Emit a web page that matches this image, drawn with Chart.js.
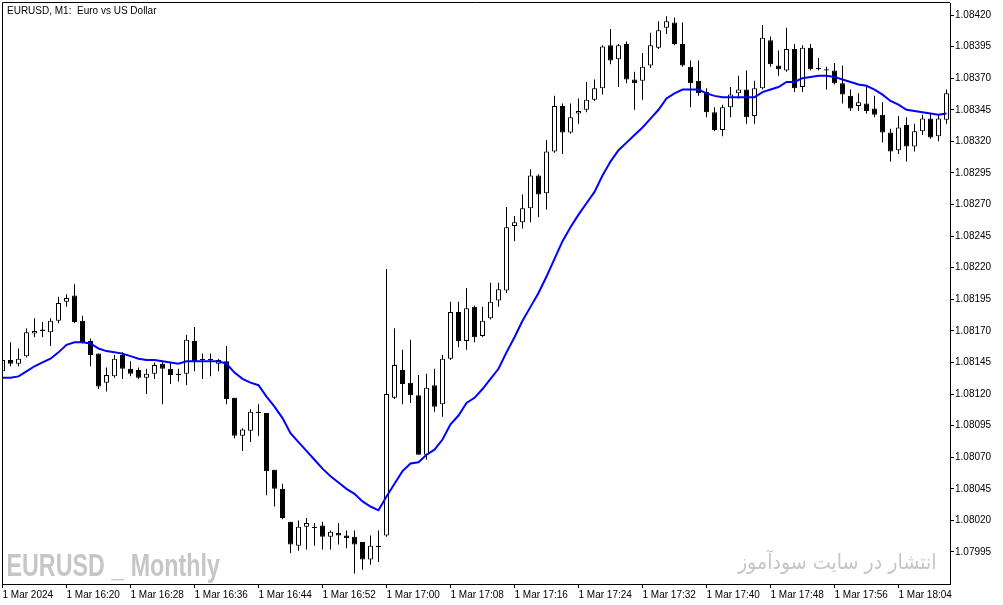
<!DOCTYPE html>
<html>
<head>
<meta charset="utf-8">
<title>EURUSD, M1</title>
<script src="https://cdn.jsdelivr.net/npm/chart.js@4.4.1/dist/chart.umd.min.js"></script>
<style>
  html, body { margin: 0; padding: 0; background: #fff; }
  canvas { display: block; }
</style>
</head>
<body>
<canvas id="chart" width="1003" height="605"></canvas>
<script>
// M1 candles, 1 Mar 2024 16:12 .. 18:10 (one entry per minute)
const openPrices = [
	1.08138, 1.08147, 1.08144, 1.08150, 1.08168, 1.08170, 1.08169, 1.08178, 1.08193, 1.08198,
	1.08178, 1.08162, 1.08152, 1.08129, 1.08134, 1.08151, 1.08140, 1.08139, 1.08133, 1.08136,
	1.08144, 1.08140, 1.08136, 1.08136, 1.08162, 1.08148, 1.08148, 1.08144, 1.08146, 1.08117,
	1.08087, 1.08091, 1.08106, 1.08105, 1.08060, 1.08045, 1.08019, 1.08000, 1.08015, 1.08015,
	1.08016, 1.08007, 1.08010, 1.08008, 1.08007, 1.08003, 1.07989, 1.08000, 1.08008, 1.08117,
	1.08139, 1.08129, 1.08119, 1.08072, 1.08127, 1.08112, 1.08148, 1.08185, 1.08162, 1.08189,
	1.08166, 1.08180, 1.08194, 1.08202, 1.08253, 1.08256, 1.08267, 1.08293, 1.08279, 1.08312,
	1.08348, 1.08327, 1.08342, 1.08345, 1.08353, 1.08362, 1.08396, 1.08385, 1.08397, 1.08369,
	1.08368, 1.08380, 1.08394, 1.08410, 1.08414, 1.08397, 1.08379, 1.08368, 1.08359, 1.08343,
	1.08329, 1.08347, 1.08358, 1.08361, 1.08340, 1.08362, 1.08400, 1.08380, 1.08376, 1.08393,
	1.08363, 1.08394, 1.08378, 1.08377, 1.08376, 1.08366, 1.08356, 1.08348, 1.08350, 1.08346,
	1.08341, 1.08327, 1.08313, 1.08333, 1.08316, 1.08328, 1.08338, 1.08324, 1.08337
];

const highPrices = [
	1.08149, 1.08161, 1.08156, 1.08172, 1.08180, 1.08177, 1.08180, 1.08197, 1.08199, 1.08207,
	1.08182, 1.08164, 1.08152, 1.08141, 1.08151, 1.08153, 1.08146, 1.08141, 1.08140, 1.08145,
	1.08146, 1.08145, 1.08140, 1.08167, 1.08173, 1.08152, 1.08152, 1.08148, 1.08158, 1.08117,
	1.08093, 1.08108, 1.08112, 1.08105, 1.08060, 1.08049, 1.08019, 1.08020, 1.08022, 1.08018,
	1.08019, 1.08012, 1.08018, 1.08012, 1.08012, 1.08003, 1.08008, 1.08012, 1.08219, 1.08172,
	1.08155, 1.08163, 1.08135, 1.08136, 1.08140, 1.08151, 1.08193, 1.08193, 1.08204, 1.08190,
	1.08189, 1.08208, 1.08208, 1.08268, 1.08261, 1.08278, 1.08298, 1.08294, 1.08321, 1.08356,
	1.08350, 1.08350, 1.08354, 1.08367, 1.08369, 1.08396, 1.08409, 1.08397, 1.08399, 1.08375,
	1.08390, 1.08406, 1.08415, 1.08419, 1.08418, 1.08414, 1.08384, 1.08384, 1.08362, 1.08347,
	1.08349, 1.08363, 1.08372, 1.08376, 1.08368, 1.08412, 1.08403, 1.08392, 1.08410, 1.08397,
	1.08396, 1.08397, 1.08386, 1.08379, 1.08382, 1.08380, 1.08361, 1.08358, 1.08363, 1.08356,
	1.08351, 1.08330, 1.08340, 1.08339, 1.08334, 1.08341, 1.08342, 1.08341, 1.08361
];

const lowPrices = [
	1.08137, 1.08142, 1.08142, 1.08149, 1.08165, 1.08165, 1.08158, 1.08176, 1.08189, 1.08176,
	1.08160, 1.08142, 1.08124, 1.08122, 1.08133, 1.08132, 1.08134, 1.08132, 1.08120, 1.08132,
	1.08112, 1.08128, 1.08130, 1.08127, 1.08138, 1.08132, 1.08134, 1.08138, 1.08112, 1.08085,
	1.08075, 1.08082, 1.08087, 1.08040, 1.08031, 1.08021, 1.07994, 1.07996, 1.07997, 1.08000,
	1.07997, 1.07997, 1.08001, 1.07998, 1.07978, 1.07981, 1.07985, 1.07987, 1.08007, 1.08116,
	1.08112, 1.08113, 1.08072, 1.08068, 1.08106, 1.08102, 1.08147, 1.08157, 1.08155, 1.08161,
	1.08165, 1.08179, 1.08189, 1.08200, 1.08241, 1.08251, 1.08256, 1.08260, 1.08266, 1.08311,
	1.08310, 1.08326, 1.08334, 1.08343, 1.08352, 1.08357, 1.08381, 1.08363, 1.08366, 1.08345,
	1.08353, 1.08378, 1.08393, 1.08405, 1.08396, 1.08379, 1.08347, 1.08356, 1.08339, 1.08328,
	1.08324, 1.08339, 1.08354, 1.08334, 1.08334, 1.08361, 1.08379, 1.08372, 1.08375, 1.08359,
	1.08359, 1.08376, 1.08376, 1.08361, 1.08365, 1.08350, 1.08344, 1.08344, 1.08342, 1.08339,
	1.08319, 1.08304, 1.08310, 1.08304, 1.08312, 1.08325, 1.08322, 1.08320, 1.08334
];

const closePrices = [
	1.08147, 1.08144, 1.08148, 1.08169, 1.08170, 1.08171, 1.08178, 1.08192, 1.08196, 1.08177,
	1.08161, 1.08151, 1.08126, 1.08135, 1.08148, 1.08140, 1.08136, 1.08133, 1.08136, 1.08143,
	1.08140, 1.08135, 1.08135, 1.08163, 1.08146, 1.08147, 1.08147, 1.08147, 1.08116, 1.08087,
	1.08092, 1.08106, 1.08105, 1.08059, 1.08045, 1.08022, 1.08001, 1.08015, 1.08018, 1.08014,
	1.08007, 1.08011, 1.08008, 1.08006, 1.08001, 1.07989, 1.08000, 1.07999, 1.08120, 1.08143,
	1.08128, 1.08119, 1.08072, 1.08125, 1.08110, 1.08148, 1.08185, 1.08162, 1.08188, 1.08165,
	1.08178, 1.08193, 1.08203, 1.08252, 1.08256, 1.08267, 1.08293, 1.08278, 1.08312, 1.08348,
	1.08327, 1.08339, 1.08344, 1.08353, 1.08362, 1.08395, 1.08384, 1.08396, 1.08369, 1.08366,
	1.08379, 1.08396, 1.08408, 1.08415, 1.08397, 1.08380, 1.08366, 1.08358, 1.08343, 1.08329,
	1.08347, 1.08357, 1.08361, 1.08339, 1.08362, 1.08402, 1.08381, 1.08377, 1.08393, 1.08362,
	1.08394, 1.08377, 1.08377, 1.08376, 1.08366, 1.08357, 1.08346, 1.08351, 1.08344, 1.08341,
	1.08327, 1.08312, 1.08331, 1.08316, 1.08328, 1.08338, 1.08323, 1.08338, 1.08358
];

// moving average (blue line)
const maValues = [
	1.08133, 1.08133, 1.08134, 1.08138, 1.08142, 1.08145, 1.08148, 1.08153, 1.08159, 1.08161,
	1.08161, 1.08160, 1.08156, 1.08154, 1.08153, 1.08152, 1.08150, 1.08148, 1.08147, 1.08147,
	1.08146, 1.08145, 1.08144, 1.08146, 1.08146, 1.08146, 1.08146, 1.08146, 1.08144, 1.08137,
	1.08132, 1.08129, 1.08127, 1.08118, 1.08110, 1.08101, 1.08089, 1.08082, 1.08075, 1.08068,
	1.08061, 1.08055, 1.08050, 1.08045, 1.08041, 1.08035, 1.08031, 1.08028, 1.08039, 1.08049,
	1.08059, 1.08065, 1.08066, 1.08072, 1.08076, 1.08084, 1.08096, 1.08103, 1.08113, 1.08117,
	1.08124, 1.08132, 1.08140, 1.08153, 1.08165, 1.08178, 1.08189, 1.08200, 1.08213, 1.08227,
	1.08241, 1.08252, 1.08262, 1.08271, 1.08280, 1.08293, 1.08304, 1.08313, 1.08319, 1.08325,
	1.08331, 1.08338, 1.08345, 1.08354, 1.08358, 1.08361, 1.08361, 1.08361, 1.08358, 1.08356,
	1.08355, 1.08355, 1.08355, 1.08355, 1.08355, 1.08359, 1.08361, 1.08363, 1.08367, 1.08367,
	1.08370, 1.08371, 1.08372, 1.08372, 1.08371, 1.08369, 1.08367, 1.08365, 1.08364, 1.08361,
	1.08357, 1.08352, 1.08349, 1.08345, 1.08344, 1.08343, 1.08342, 1.08341, 1.08342
];

const priceTicks = [
	1.07995, 1.08020, 1.08045, 1.08070, 1.08095, 1.08120, 1.08145, 1.08170, 1.08195,
	1.08220, 1.08245, 1.08270, 1.08295, 1.08320, 1.08345, 1.08370, 1.08395, 1.08420
];

// one label every 8 bars
const timeLabels = [
	'1 Mar 2024', '1 Mar 16:20', '1 Mar 16:28', '1 Mar 16:36', '1 Mar 16:44',
	'1 Mar 16:52', '1 Mar 17:00', '1 Mar 17:08', '1 Mar 17:16', '1 Mar 17:24',
	'1 Mar 17:32', '1 Mar 17:40', '1 Mar 17:48', '1 Mar 17:56', '1 Mar 18:04'
];
const timeTickStep = 8;

const chartTitle = 'EURUSD, M1:  Euro vs US Dollar';
const watermarkLeft = 'EURUSD _ Monthly';
const watermarkRight = 'انتشار در سایت سودآموز';

const bodyData = openPrices.map((o, i) => ({ x: i, y: [o, closePrices[i]] }));
const wickData = lowPrices.map((l, i) => ({ x: i, y: [l, highPrices[i]] }));
const maData = maValues.map((v, i) => ({ x: i, y: v }));
const bodyColors = openPrices.map((o, i) => (closePrices[i] >= o ? '#ffffff' : '#000000'));

const tickFont = { family: 'Liberation Sans', size: 10 };

function drawFitted(ctx, text, font, color, left, baseline, width) {
	ctx.save();
	ctx.font = font;
	ctx.textAlign = 'left';
	ctx.textBaseline = 'alphabetic';
	const m = ctx.measureText(text);
	const w = m.actualBoundingBoxLeft + m.actualBoundingBoxRight;
	const k = width / w;
	ctx.translate(left + m.actualBoundingBoxLeft * k, baseline);
	ctx.scale(k, 1);
	ctx.fillStyle = color;
	ctx.fillText(text, 0, 0);
	ctx.restore();
}

const terminalDecor = {
	id: 'terminalDecor',
	beforeDatasetsDraw(chart) {
		const ctx = chart.ctx;
		drawFitted(ctx, watermarkLeft, 'bold 32px "Liberation Sans Narrow", "Liberation Sans"', '#c6c6c6', 8, 576, 212);
		drawFitted(ctx, watermarkRight, '21px "DejaVu Sans"', '#c6c6c6', 737, 569, 198);
	},
	afterDraw(chart) {
		const { ctx, chartArea: a } = chart;
		ctx.save();
		ctx.strokeStyle = '#000';
		ctx.lineWidth = 1;
		ctx.beginPath();
		ctx.moveTo(a.left + 0.5, a.bottom);
		ctx.lineTo(a.left + 0.5, a.top - 0.5);
		ctx.lineTo(a.right, a.top - 0.5);
		ctx.stroke();
		ctx.fillStyle = '#000';
		ctx.font = '10px "Liberation Sans"';
		ctx.textBaseline = 'alphabetic';
		ctx.fillText(chartTitle, 7, 14);
		ctx.restore();
	}
};

new Chart(document.getElementById('chart'), {
	type: 'bar',
	data: {
		datasets: [
			{
				type: 'line',
				label: 'MA',
				data: maData,
				borderColor: '#0000ff',
				borderWidth: 2,
				pointRadius: 0,
				tension: 0,
				order: 0,
				clip: 0
			},
			{
				label: 'Body',
				data: bodyData,
				backgroundColor: bodyColors,
				borderColor: '#000000',
				borderWidth: 1,
				borderSkipped: false,
				barThickness: 5,
				minBarLength: 1,
				inflateAmount: 0,
				grouped: false,
				order: 1,
				clip: 0
			},
			{
				label: 'Wick',
				data: wickData,
				backgroundColor: '#000000',
				borderWidth: 0,
				barThickness: 1,
				inflateAmount: 0,
				grouped: false,
				order: 2,
				clip: 0
			}
		]
	},
	options: {
		responsive: false,
		devicePixelRatio: 1,
		animation: false,
		events: [],
		layout: { padding: { left: 2, top: 3, right: 0, bottom: 0 } },
		plugins: {
			legend: { display: false },
			tooltip: { enabled: false }
		},
		scales: {
			x: {
				type: 'linear',
				min: -0.0625,
				max: 118.4375,
				offset: false,
				bounds: 'data',
				afterBuildTicks: (s) => {
					s.ticks = timeLabels.map((_, k) => ({ value: k * timeTickStep }));
				},
				afterFit: (s) => {
					s.height = 21;
					s.paddingLeft = 0;
					s.paddingRight = 0;
				},
				ticks: {
					align: 'start',
					autoSkip: false,
					maxRotation: 0,
					minRotation: 0,
					padding: 1,
					color: '#000',
					font: tickFont,
					callback: (v) => timeLabels[Math.round(v / timeTickStep)]
				},
				grid: { drawOnChartArea: false, offset: false, tickLength: 4, tickColor: '#000' },
				border: { display: true, color: '#000', width: 1 }
			},
			y: {
				position: 'right',
				min: 1.0796967,
				max: 1.0842950,
				bounds: 'data',
				afterBuildTicks: (s) => {
					s.ticks = priceTicks.map((v) => ({ value: v }));
				},
				afterFit: (s) => {
					s.width = 53;
					s.paddingTop = 0;
					s.paddingBottom = 0;
				},
				ticks: {
					autoSkip: false,
					padding: 1,
					color: '#000',
					font: tickFont,
					callback: (v) => v.toFixed(5)
				},
				grid: { drawOnChartArea: false, tickLength: 4, tickColor: '#000' },
				border: { display: true, color: '#000', width: 1 }
			}
		}
	},
	plugins: [terminalDecor]
});
</script>
</body>
</html>
